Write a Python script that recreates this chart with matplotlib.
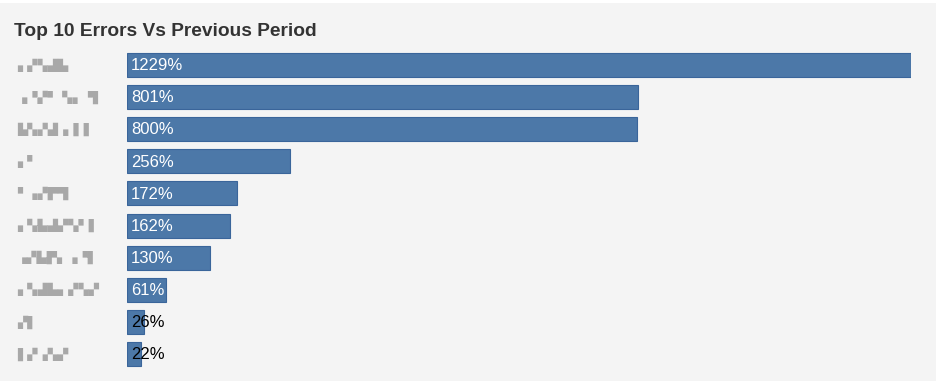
import matplotlib
matplotlib.use("Agg")
import matplotlib.pyplot as plt
import matplotlib.transforms as mtransforms
from matplotlib.patches import Rectangle

# ───── Data ─────
# category names are pixelated in the reference, so placeholders stand in
categories = ["▖▞▚▟▙", "▗▝▞▘ ▚▖▝▌", "▙▚▞▟▗▐▐", "▖▘", "▘▗▞▛▜",
              "▖▚▙▟▞▚▘▌", "▗▞▙▛▖▗▝▌", "▖▚▟▙▖▞▚▞", "▞▌", "▌▞▗▚▞"]
values = [1229, 801, 800, 256, 172, 162, 130, 61, 26, 22]

# ───── Style ─────
BG = "#f4f4f4"
BAR = "#4c78a8"
EDGE = "#3a659a"
TITLE_COLOR = "#333333"
plt.rcParams["font.family"] = ["Liberation Sans", "DejaVu Sans"]

W, H = 939, 381
fig = plt.figure(figsize=(W / 100, H / 100), dpi=100, facecolor="white")
fig.patches.append(Rectangle((0, 0), 936 / W, 378 / H, transform=fig.transFigure,
                             facecolor=BG, edgecolor="none", zorder=-10))

left, right = 127 / W, 911 / W
top, bottom = 1 - 49 / H, 1 - 370 / H
ax = fig.add_axes([left, bottom, right - left, top - bottom])
ax.set_facecolor("none")

ypos = list(range(len(values)))
ax.barh(ypos, values, height=0.75, color=BAR, edgecolor=EDGE, linewidth=0.8)
ax.set_xlim(0, max(values))
ax.set_ylim(len(values) - 0.5, -0.5)
ax.axis("off")

# value labels, white inside bars, black when bar too short
for y, v in zip(ypos, values):
    ax.annotate(f"{v}%", xy=(0, y), xytext=(3, -0.5), textcoords="offset points",
                ha="left", va="center", fontsize=12,
                color="white" if v > 50 else "black")

# category labels on the left
trans = mtransforms.blended_transform_factory(fig.transFigure, ax.transData)
for y, c in zip(ypos, categories):
    ax.text(17 / W, y, c, transform=trans, ha="left", va="center",
            fontsize=9.5, color="#a8a8a8", family=["DejaVu Sans"])

fig.text(14 / W, 1 - 31 / H, "Top 10 Errors Vs Previous Period", ha="left",
         va="center", fontsize=13.8, fontweight="bold", color=TITLE_COLOR)

fig.savefig("out.png", dpi=100, facecolor=fig.get_facecolor())
